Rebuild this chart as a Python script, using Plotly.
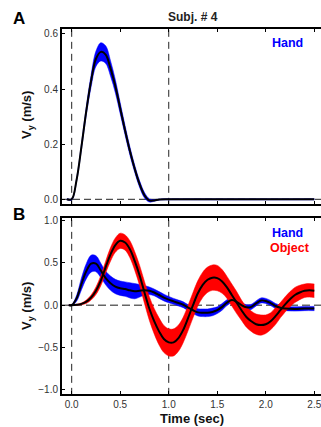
import plotly.graph_objects as go

# ---------------- data ----------------
# Panel A: hand velocity
t_hand_a = [-0.05, 0.00, 0.05, 0.10, 0.15, 0.20, 0.25, 0.30, 0.35, 0.40, 0.45, 0.50,
            0.55, 0.60, 0.65, 0.70, 0.75, 0.80, 0.85, 0.90, 1.00, 1.50, 2.00, 2.50]
hand_a_mean = [0.0, 0.0, 0.07, 0.19, 0.32, 0.43, 0.51, 0.535, 0.525, 0.475, 0.41, 0.33,
               0.25, 0.175, 0.11, 0.055, 0.015, -0.004, -0.004, -0.001, 0.0, 0.0, 0.0, 0.0]
hand_a_sd = [0.002, 0.003, 0.006, 0.010, 0.015, 0.022, 0.028, 0.033, 0.032, 0.028, 0.024, 0.020,
             0.017, 0.015, 0.013, 0.012, 0.010, 0.006, 0.003, 0.002, 0.002, 0.002, 0.002, 0.002]

# Panel B: hand velocity
t_hand_b = [-0.03, 0.00, 0.05, 0.10, 0.15, 0.20, 0.25, 0.30, 0.35, 0.40, 0.45, 0.50, 0.55,
            0.60, 0.65, 0.70, 0.75, 0.80, 0.85, 0.90, 0.95, 1.00, 1.05, 1.10, 1.15, 1.20,
            1.25, 1.30, 1.35, 1.40, 1.45, 1.50, 1.55, 1.60, 1.65, 1.70, 1.75, 1.80, 1.85,
            1.90, 1.95, 2.00, 2.05, 2.10, 2.15, 2.20, 2.30, 2.40, 2.50]
hand_b_mean = [0.0, 0.0, 0.08, 0.25, 0.40, 0.49, 0.49, 0.41, 0.32, 0.26, 0.22, 0.20, 0.19,
               0.175, 0.165, 0.17, 0.175, 0.17, 0.15, 0.12, 0.09, 0.065, 0.045, 0.025, 0.005, -0.03,
               -0.06, -0.085, -0.09, -0.09, -0.08, -0.06, -0.02, 0.03, 0.06, 0.04, 0.0, -0.025, -0.02,
               0.02, 0.055, 0.05, 0.025, -0.01, -0.03, -0.04, -0.045, -0.04, -0.04]
hand_b_sd = [0.003, 0.005, 0.035, 0.07, 0.09, 0.10, 0.095, 0.085, 0.08, 0.085, 0.085, 0.085, 0.085,
             0.09, 0.09, 0.075, 0.055, 0.045, 0.04, 0.04, 0.04, 0.038, 0.035, 0.035, 0.035, 0.035,
             0.04, 0.042, 0.045, 0.045, 0.045, 0.04, 0.04, 0.035, 0.032, 0.03, 0.03, 0.03, 0.03,
             0.03, 0.03, 0.03, 0.03, 0.03, 0.03, 0.025, 0.025, 0.025, 0.025]

# Panel B: object velocity
t_obj_b = [-0.03, 0.00, 0.05, 0.10, 0.15, 0.20, 0.25, 0.30, 0.35, 0.40, 0.45, 0.50, 0.55,
           0.60, 0.65, 0.70, 0.75, 0.80, 0.85, 0.90, 0.95, 1.00, 1.05, 1.10, 1.15, 1.20,
           1.25, 1.30, 1.35, 1.40, 1.45, 1.50, 1.55, 1.60, 1.65, 1.70, 1.75, 1.80, 1.85,
           1.90, 1.95, 2.00, 2.05, 2.10, 2.15, 2.20, 2.25, 2.30, 2.35, 2.40, 2.45, 2.50]
obj_b_mean = [0.0, 0.0, 0.005, 0.015, 0.04, 0.09, 0.17, 0.29, 0.45, 0.60, 0.71, 0.76, 0.74,
              0.66, 0.52, 0.35, 0.15, -0.04, -0.19, -0.31, -0.40, -0.44, -0.44, -0.39, -0.29, -0.15,
              0.00, 0.14, 0.24, 0.30, 0.325, 0.32, 0.28, 0.21, 0.12, 0.03, -0.06, -0.14, -0.19,
              -0.225, -0.235, -0.225, -0.19, -0.13, -0.06, 0.01, 0.07, 0.12, 0.15, 0.17, 0.175, 0.17]
obj_b_sd = [0.002, 0.003, 0.005, 0.01, 0.02, 0.03, 0.045, 0.06, 0.07, 0.08, 0.085, 0.09, 0.09,
            0.10, 0.11, 0.12, 0.13, 0.14, 0.15, 0.16, 0.16, 0.16, 0.16, 0.155, 0.15, 0.15,
            0.15, 0.15, 0.15, 0.15, 0.15, 0.15, 0.14, 0.13, 0.13, 0.13, 0.12, 0.12, 0.12,
            0.12, 0.12, 0.11, 0.10, 0.10, 0.09, 0.09, 0.09, 0.09, 0.085, 0.08, 0.08, 0.08]

x_ticks = [0.0, 0.5, 1.0, 1.5, 2.0, 2.5]
x_tick_labels = ["0.0", "0.5", "1.0", "1.5", "2.0", "2.5"]
ya_ticks = [0.0, 0.2, 0.4, 0.6]
ya_tick_labels = ["0.0", "0.2", "0.4", "0.6"]
yb_ticks = [-1.0, -0.5, 0.0, 0.5, 1.0]
yb_tick_labels = ["\u22121.0", "\u22120.5", "0.0", "0.5", "1.0"]

BLUE = "#0000ff"
RED = "#ff0000"
FONT = "Liberation Sans, Arial, sans-serif"

fig = go.Figure()


def add_band(t, mean, sd, color, xa, ya):
    upper = [m + s for m, s in zip(mean, sd)]
    lower = [m - s for m, s in zip(mean, sd)]
    fig.add_trace(go.Scatter(x=t, y=upper, mode="lines", line=dict(width=0.5, color=color, shape="spline"),
                             xaxis=xa, yaxis=ya, showlegend=False, hoverinfo="skip"))
    fig.add_trace(go.Scatter(x=t, y=lower, mode="lines", line=dict(width=0.5, color=color, shape="spline"),
                             fill="tonexty", fillcolor=color,
                             xaxis=xa, yaxis=ya, showlegend=False, hoverinfo="skip"))


def add_mean(t, mean, xa, ya):
    fig.add_trace(go.Scatter(x=t, y=mean, mode="lines", line=dict(width=2, color="black", shape="spline"),
                             xaxis=xa, yaxis=ya, showlegend=False))


# Panel A
add_band(t_hand_a, hand_a_mean, hand_a_sd, BLUE, "x", "y")
add_mean(t_hand_a, hand_a_mean, "x", "y")
# Panel B
add_band(t_hand_b, hand_b_mean, hand_b_sd, BLUE, "x2", "y2")
add_band(t_obj_b, obj_b_mean, obj_b_sd, RED, "x2", "y2")
add_mean(t_hand_b, hand_b_mean, "x2", "y2")
add_mean(t_obj_b, obj_b_mean, "x2", "y2")

# Dashed reference lines
for xr, yr, y0, y1 in [("x", "y", -0.02, 0.62), ("x2", "y2", -1.06, 1.04)]:
    for xv in [0.0, 1.0]:
        fig.add_shape(type="line", xref=xr, yref=yr, x0=xv, x1=xv, y0=y0, y1=y1,
                      line=dict(color="#222222", width=1, dash="7px,5px"), layer="below")
fig.add_shape(type="line", xref="x", yref="y", x0=-0.1, x1=2.6, y0=0, y1=0,
              line=dict(color="#222222", width=1, dash="7px,4px"), layer="below")
fig.add_shape(type="line", xref="x2", yref="y2", x0=-0.1, x1=2.6, y0=0, y1=0,
              line=dict(color="#666666", width=1.5, dash="8px,4px"), layer="below")

xcommon = dict(range=[-0.1, 2.569], tickvals=x_ticks, ticktext=x_tick_labels,
               showline=True, linecolor="black", linewidth=2, mirror="allticks",
               ticks="inside", ticklen=3, tickwidth=1, tickcolor="black",
               showgrid=False, zeroline=False, ticklabeloverflow="allow",
               tickfont=dict(family=FONT, size=10, color="#333333"))
ycommon = dict(showline=True, linecolor="black", linewidth=2, mirror=False,
               ticks="inside", ticklen=3, tickwidth=1, tickcolor="black",
               showgrid=False, zeroline=False,
               tickfont=dict(family=FONT, size=10, color="#333333"))

top_px, a_bot_px, b_top_px, bot_px = 29, 204, 218, 394
H = bot_px - top_px

fig.update_layout(
    width=321, height=427,
    margin=dict(l=62, r=0, t=top_px, b=427 - bot_px),
    paper_bgcolor="white", plot_bgcolor="white",
    xaxis=dict(**xcommon, anchor="y", showticklabels=False),
    yaxis=dict(**ycommon, range=[-0.017, 0.618], tickvals=ya_ticks, ticktext=ya_tick_labels,
               domain=[(bot_px - a_bot_px) / H, 1.0], anchor="x"),
    xaxis2=dict(**xcommon, anchor="y2"),
    yaxis2=dict(**ycommon, range=[-1.05, 1.03], tickvals=yb_ticks, ticktext=yb_tick_labels,
                domain=[0.0, (bot_px - b_top_px) / H], anchor="x2"),
)


def px_to_paper(xp, yp):
    return (xp - 62) / 259.0, (bot_px - yp) / H


annots = [
    ("<b>Subj. # 4</b>", 193, 17, 12, "#222222", 0),
    ("<b>A</b>", 19, 19, 17, "black", 0),
    ("<b>B</b>", 19, 214, 17, "black", 0),
    ("<b>Hand</b>", 287, 43, 12.5, BLUE, 0),
    ("<b>Hand</b>", 287, 233, 12.5, BLUE, 0),
    ("<b>Object</b>", 290, 248, 12.5, RED, 0),
    ("<b>V<sub>y</sub> (m/s)</b>", 27, 115, 13, "#111111", -90),
    ("<b>V<sub>y</sub> (m/s)</b>", 27, 306, 13, "#111111", -90),
    ("<b>Time (sec)</b>", 192, 418, 13, "#111111", 0),
]
for text, xp, yp, size, color, ang in annots:
    xx, yy = px_to_paper(xp, yp)
    fig.add_annotation(text=text, x=xx, y=yy, xref="paper", yref="paper",
                       xanchor="center", yanchor="middle", showarrow=False,
                       textangle=ang, font=dict(family=FONT, size=size, color=color))

fig.write_html("out.html", config={"displayModeBar": False},
               post_script="document.body.style.margin='0';document.body.style.overflow='hidden';")
